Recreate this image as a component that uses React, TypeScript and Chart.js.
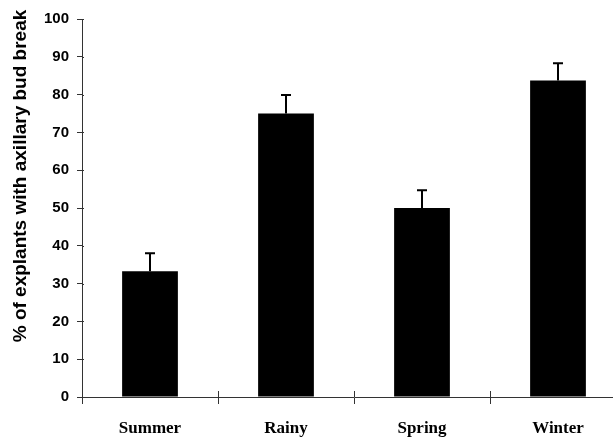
import React, { useEffect, useRef } from "react";
import { Chart, registerables } from "chart.js";

Chart.register(...registerables);

const categories = ["Summer", "Rainy", "Spring", "Winter"];
const values = [33.3, 75.0, 50.0, 83.7];
const errors = [4.7, 4.9, 4.7, 4.6];
const yTitle = "% of explants with axillary bud break";
const yMin = 0;
const yMax = 100;
const yStep = 10;

const errorBarPlugin = {
  id: "errorBars",
  afterDatasetsDraw(chart: any) {
    const meta = chart.getDatasetMeta(0);
    const yScale = chart.scales.y;
    const ctx = chart.ctx;
    ctx.save();
    ctx.strokeStyle = "#000";
    ctx.lineWidth = 2;
    meta.data.forEach((bar: any, i: number) => {
      const x = bar.x;
      const yb = yScale.getPixelForValue(values[i]);
      const yt = yScale.getPixelForValue(values[i] + errors[i]);
      ctx.beginPath();
      ctx.moveTo(x, yb);
      ctx.lineTo(x, yt);
      ctx.moveTo(x - 5, yt);
      ctx.lineTo(x + 5, yt);
      ctx.stroke();
    });
    ctx.restore();
  },
};

const innerTicksPlugin = {
  id: "innerTicks",
  afterDraw(chart: any) {
    const xs = chart.scales.x;
    const ys = chart.scales.y;
    const ctx = chart.ctx;
    ctx.save();
    ctx.strokeStyle = "#333";
    ctx.lineWidth = 1;
    ctx.beginPath();
    const n = categories.length;
    for (let i = 0; i <= n; i++) {
      let px: number;
      if (i === 0) px = xs.left;
      else if (i === n) px = xs.getPixelForValue(n - 1) + (xs.getPixelForValue(n - 1) - xs.getPixelForValue(n - 2)) / 2;
      else px = (xs.getPixelForValue(i - 1) + xs.getPixelForValue(i)) / 2;
      px = Math.round(px) + 0.5;
      ctx.moveTo(px, xs.top - 6);
      ctx.lineTo(px, xs.top);
    }
    for (let v = yMin; v <= yMax; v += yStep) {
      const py = Math.round(ys.getPixelForValue(v)) + 0.5;
      ctx.moveTo(ys.right, py);
      ctx.lineTo(ys.right + 2, py);
    }
    ctx.stroke();
    ctx.restore();
  },
};

const yTitlePlugin = {
  id: "yTitle",
  afterDraw(chart: any) {
    const ctx = chart.ctx;
    ctx.save();
    ctx.translate(21, 176);
    ctx.rotate(-Math.PI / 2);
    ctx.fillStyle = "#000";
    ctx.font = "bold 19px 'Liberation Sans', Arial, sans-serif";
    ctx.textAlign = "center";
    ctx.textBaseline = "middle";
    ctx.fillText(yTitle, 0, 0);
    ctx.restore();
  },
};

export default function App() {
  const ref = useRef<HTMLCanvasElement | null>(null);
  useEffect(() => {
    document.body.style.overflow = "hidden";
    const canvas = ref.current!;
    const chart = new Chart(canvas, {
      type: "bar",
      data: {
        labels: categories,
        datasets: [
          {
            data: values,
            backgroundColor: "#000",
            borderWidth: 0,
            barPercentage: 0.41,
            categoryPercentage: 1,
          },
        ],
      },
      plugins: [errorBarPlugin, innerTicksPlugin, yTitlePlugin],
      options: {
        responsive: false,
        animation: false,
        devicePixelRatio: 1,
        layout: { padding: { left: 0, right: 14, top: 19, bottom: 0 } },
        plugins: { legend: { display: false }, tooltip: { enabled: false } },
        scales: {
          y: {
            min: yMin,
            max: yMax,
            ticks: {
              stepSize: yStep,
              color: "#000",
              padding: 8,
              font: { family: "'Liberation Sans', Arial, sans-serif", weight: "bold", size: 15 },
            },
            grid: { drawOnChartArea: false, tickLength: 5, color: "#333" },
            border: { color: "#333", width: 1 },
            afterFit(scale: any) {
              scale.width = 82;
            },
          },
          x: {
            ticks: {
              color: "#000",
              padding: 14,
              font: { family: "'Liberation Serif', 'Times New Roman', serif", weight: "bold", size: 17 },
            },
            grid: { drawOnChartArea: false, tickLength: 7, color: "#333", offset: true },
            border: { color: "#333", width: 1 },
            afterFit(scale: any) {
              scale.height = 43;
            },
          },
        },
      },
    });
    return () => chart.destroy();
  }, []);
  return (
    <canvas
      ref={ref}
      width={640}
      height={440}
      style={{ position: "fixed", left: 0, top: 0, width: 640, height: 440 }}
    />
  );
}
